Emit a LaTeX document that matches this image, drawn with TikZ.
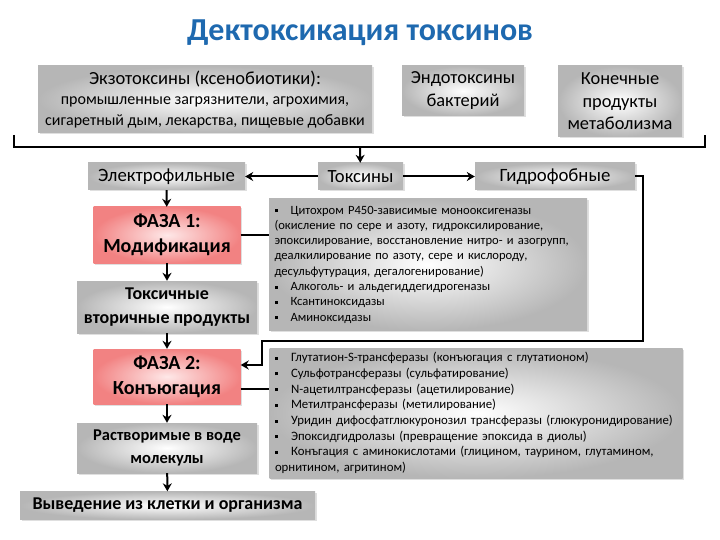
\documentclass[tikz,border=0pt]{standalone}
\usepackage{fontspec}
\setmainfont{Carlito}
\usepackage{xcolor}
\usepackage{tikz}
\usetikzlibrary{arrows.meta,calc,shadows}

\definecolor{titleblue}{RGB}{30,105,175}
\definecolor{boxgray}{RGB}{182,182,182}
\definecolor{pinkout}{RGB}{242,130,130}
\definecolor{pinkin}{RGB}{254,232,232}

\newcommand{\sqbul}{\rule[2pt]{3pt}{3pt}\hspace{13pt}}

\begin{document}
\begin{tikzpicture}[x=1pt, y=-1pt, >={Stealth[length=8pt,width=9pt]},
    line join=miter,
    graybox/.style={shading=radial, inner color=white, outer color=boxgray,
      drop shadow={opacity=0.25, shadow xshift=1.5pt, shadow yshift=-1.5pt},
      align=center, inner sep=1pt},
    pinkbox/.style={shading=radial, inner color=pinkin, outer color=pinkout,
      drop shadow={opacity=0.25, shadow xshift=1.5pt, shadow yshift=-1.5pt},
      align=center, inner sep=1pt, font=\fontsize{20}{25}\selectfont\bfseries},
    descbox/.style={shading=radial, inner color=white, outer color=boxgray,
      drop shadow={opacity=0.25, shadow xshift=1.5pt, shadow yshift=-1.5pt},
      align=left, inner xsep=5.5pt, inner ysep=1pt},
    arr/.style={->, line width=2pt},
    conn/.style={line width=2pt}]

  \useasboundingbox (0,0) rectangle (720,540);

  %--- Title -----------------------------------------------------------------
  \node[font=\fontsize{32}{36}\selectfont\bfseries, text=titleblue]
        (title) at (360,33) {Дектоксикация токсинов};

  %--- Sources of toxins ------------------------------------------------------
  \node[graybox, minimum width=334, minimum height=67,
        font=\fontsize{16}{20.5}\selectfont]
        (exo) at (205,99.5)
        {{\fontsize{18.5}{20.5}\selectfont Экзотоксины (ксенобиотики):}\\
         промышленные загрязнители, агрохимия,\\
         сигаретный дым, лекарства, пищевые добавки};
  \node[graybox, minimum width=122, minimum height=50,
        font=\fontsize{18.4}{23}\selectfont]
        (endo) at (463,91) {Эндотоксины\\бактерий};
  \node[graybox, minimum width=124, minimum height=71,
        font=\fontsize{18.4}{22.5}\selectfont]
        (kon) at (620,101.5) {Конечные\\продукты\\метаболизма};

  %--- Bracket ----------------------------------------------------------------
  \coordinate (brL) at (14,135);
  \coordinate (brR) at (705,135);
  \coordinate (brM) at (360,147);
  \draw[conn] (brL) |- (brM) -| (brR);

  %--- Second row -------------------------------------------------------------
  \node[graybox, minimum width=157, minimum height=27,
        font=\fontsize{18.8}{20}\selectfont]
        (electro) at (166.5,176.5) {Электрофильные};
  \node[graybox, minimum width=85, minimum height=27,
        font=\fontsize{18.6}{20}\selectfont]
        (tox) at (360.5,176.5) {Токсины};
  \node[graybox, minimum width=160, minimum height=27,
        font=\fontsize{18.8}{20}\selectfont]
        (hydro) at (555,176.5) {Гидрофобные};

  \draw[arr] (brM) -- (tox);
  \draw[arr] (tox) -- (electro);
  \draw[arr] (tox) -- (hydro);

  %--- Left column ------------------------------------------------------------
  \node[pinkbox, minimum width=147, minimum height=56]
        (faza1) at (167,235) {ФАЗА 1:\\Модификация};
  \node[graybox, minimum width=180, minimum height=52,
        font=\fontsize{18}{24}\selectfont\bfseries]
        (toxsec) at (167,307) {Токсичные\\вторичные продукты};
  \node[pinkbox, minimum width=147, minimum height=55]
        (faza2) at (167,376.5) {ФАЗА 2:\\Конъюгация};
  \node[graybox, minimum width=180, minimum height=50,
        font=\fontsize{16.5}{23}\selectfont\bfseries]
        (sol) at (167,448) {Растворимые в воде\\молекулы};
  \node[graybox, minimum width=295, minimum height=28,
        font=\fontsize{18}{20}\selectfont\bfseries]
        (vyv) at (167.5,505.5) {Выведение из клетки и организма};

  \draw[arr] (electro) -- (faza1);
  \draw[arr] (faza1) -- (toxsec);
  \draw[arr] (toxsec) -- (faza2);
  \draw[arr] (faza2) -- (sol);
  \draw[arr] (sol) -- (vyv);

  %--- Enzyme lists -----------------------------------------------------------
  \node[descbox, minimum width=318, minimum height=132, text width=307,
        font=\fontsize{12.6}{15.3}\selectfont]
        (desc1) at (428,264.5)
        {\sqbul Цитохром P450-зависимые монооксигеназы\\
         (окисление по сере и азоту, гидроксилирование,\\
         эпоксилирование, восстановление нитро- и азогрупп,\\
         деалкилирование по азоту, сере и кислороду,\\
         десульфутурация, дегалогенирование)\\
         \sqbul Алкоголь- и альдегиддегидрогеназы\\
         \sqbul Ксантиноксидазы\\
         \sqbul Аминоксидазы};
  \node[descbox, minimum width=413, minimum height=130, text width=402,
        font=\fontsize{12.8}{15.7}\selectfont]
        (desc2) at (476,413)
        {\sqbul Глутатион-S-трансферазы (конъюгация с глутатионом)\\
         \sqbul Сульфотрансферазы (сульфатирование)\\
         \sqbul N-ацетилтрансферазы (ацетилирование)\\
         \sqbul Метилтрансферазы (метилирование)\\
         \mbox{\sqbul Уридин дифосфатглюкуронозил трансферазы (глюкуронидирование)}\\
         \sqbul Эпоксидгидролазы (превращение эпоксида в диолы)\\
         \sqbul Конъгация с аминокислотами (глицином, таурином, глутамином,\\
         орнитином, агритином)};

  \draw[conn] (faza1.east) -- (desc1.west |- faza1.east);
  \coordinate (f2out) at ([yshift=-12.5pt]faza2.east);
  \draw[conn] (f2out) -- (f2out -| desc2.west);

  %--- Hydrophobic route back to phase 2 --------------------------------------
  \coordinate (rc) at (643,341);
  \coordinate (lc) at (262,341);
  \coordinate (f2in) at ([yshift=11.5pt]faza2.east);
  \draw[arr] (hydro.east) -| (rc) -- (lc) |- (f2in);

\end{tikzpicture}
\end{document}
